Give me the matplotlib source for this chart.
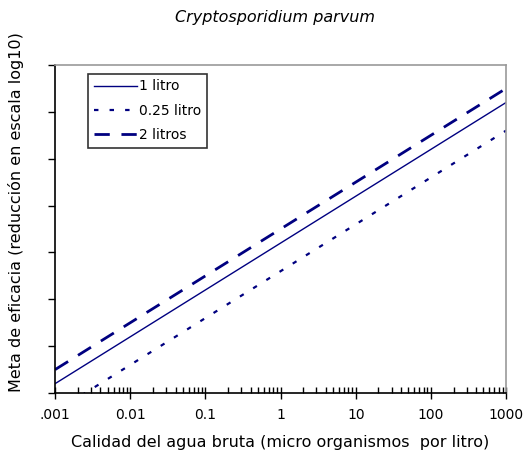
import matplotlib.pyplot as plt
import matplotlib.ticker as mticker
import numpy as np

plt.rcParams['font.family'] = ['DejaVu Sans']

# raw water quality (organisms per litre), log scale
calidad = [0.001, 0.01, 0.1, 1, 10, 100, 1000]
# target log10 reduction
meta_1l = [0.2, 1.2, 2.2, 3.2, 4.2, 5.2, 6.2]
meta_025l = [-0.4, 0.6, 1.6, 2.6, 3.6, 4.6, 5.6]
meta_2l = [0.5, 1.5, 2.5, 3.5, 4.5, 5.5, 6.5]

x_labels = [".001", "0.01", "0.1", "1", "10", "100", "1000"]
y_ticks = [0, 1, 2, 3, 4, 5, 6, 7]

navy = "#000080"

fig = plt.figure(figsize=(5.25, 4.61), dpi=100)
ax = fig.add_axes([0.105, 0.1475, 0.859, 0.7115])

ax.plot(calidad, meta_1l, color=navy, lw=1.0, label="1 litro")
ax.plot(calidad, meta_025l, color=navy, lw=1.6, dashes=(2, 5), label="0.25 litro")
ax.plot(calidad, meta_2l, color=navy, lw=2.0, dashes=(5.5, 4.2), label="2 litros")

ax.set_xscale("log")
ax.set_xlim(0.001, 1000)
ax.set_ylim(0, 7)
ax.set_xticks(calidad)
ax.set_xticklabels(x_labels)
ax.xaxis.set_minor_locator(mticker.LogLocator(base=10, subs=np.arange(2, 10)))
ax.xaxis.set_minor_formatter(mticker.NullFormatter())
ax.set_yticks(y_ticks)
ax.set_yticklabels([])

ax.tick_params(axis="x", which="major", direction="inout", length=8, width=1,
               labelsize=10, pad=7)
ax.tick_params(axis="x", which="minor", direction="in", length=4, width=1)
ax.tick_params(axis="y", direction="out", length=5, width=1)

for s in ["left", "bottom"]:
    ax.spines[s].set_color("black")
    ax.spines[s].set_linewidth(1.2)
for s in ["top", "right"]:
    ax.spines[s].set_color("#999999")
    ax.spines[s].set_linewidth(1.2)

ax.set_xlabel("Calidad del agua bruta (micro organismos  por litro)",
              fontsize=11.5, labelpad=9)
ax.set_ylabel("Meta de eficacia (reducción en escala log10)", fontsize=11.5)
ax.yaxis.set_label_coords(-0.068, 0.553)
ax.set_title("Cryptosporidium parvum", fontsize=11.5, style="italic",
             x=0.487, pad=31)

leg = ax.legend(loc="upper left", bbox_to_anchor=(0.073, 0.973), fontsize=10,
                frameon=True, fancybox=False, edgecolor="black",
                handlelength=3.1, handletextpad=0.2, borderpad=0.4,
                labelspacing=0.75, borderaxespad=0)
leg.get_frame().set_linewidth(1.2)

fig.savefig("out.png", dpi=100)
